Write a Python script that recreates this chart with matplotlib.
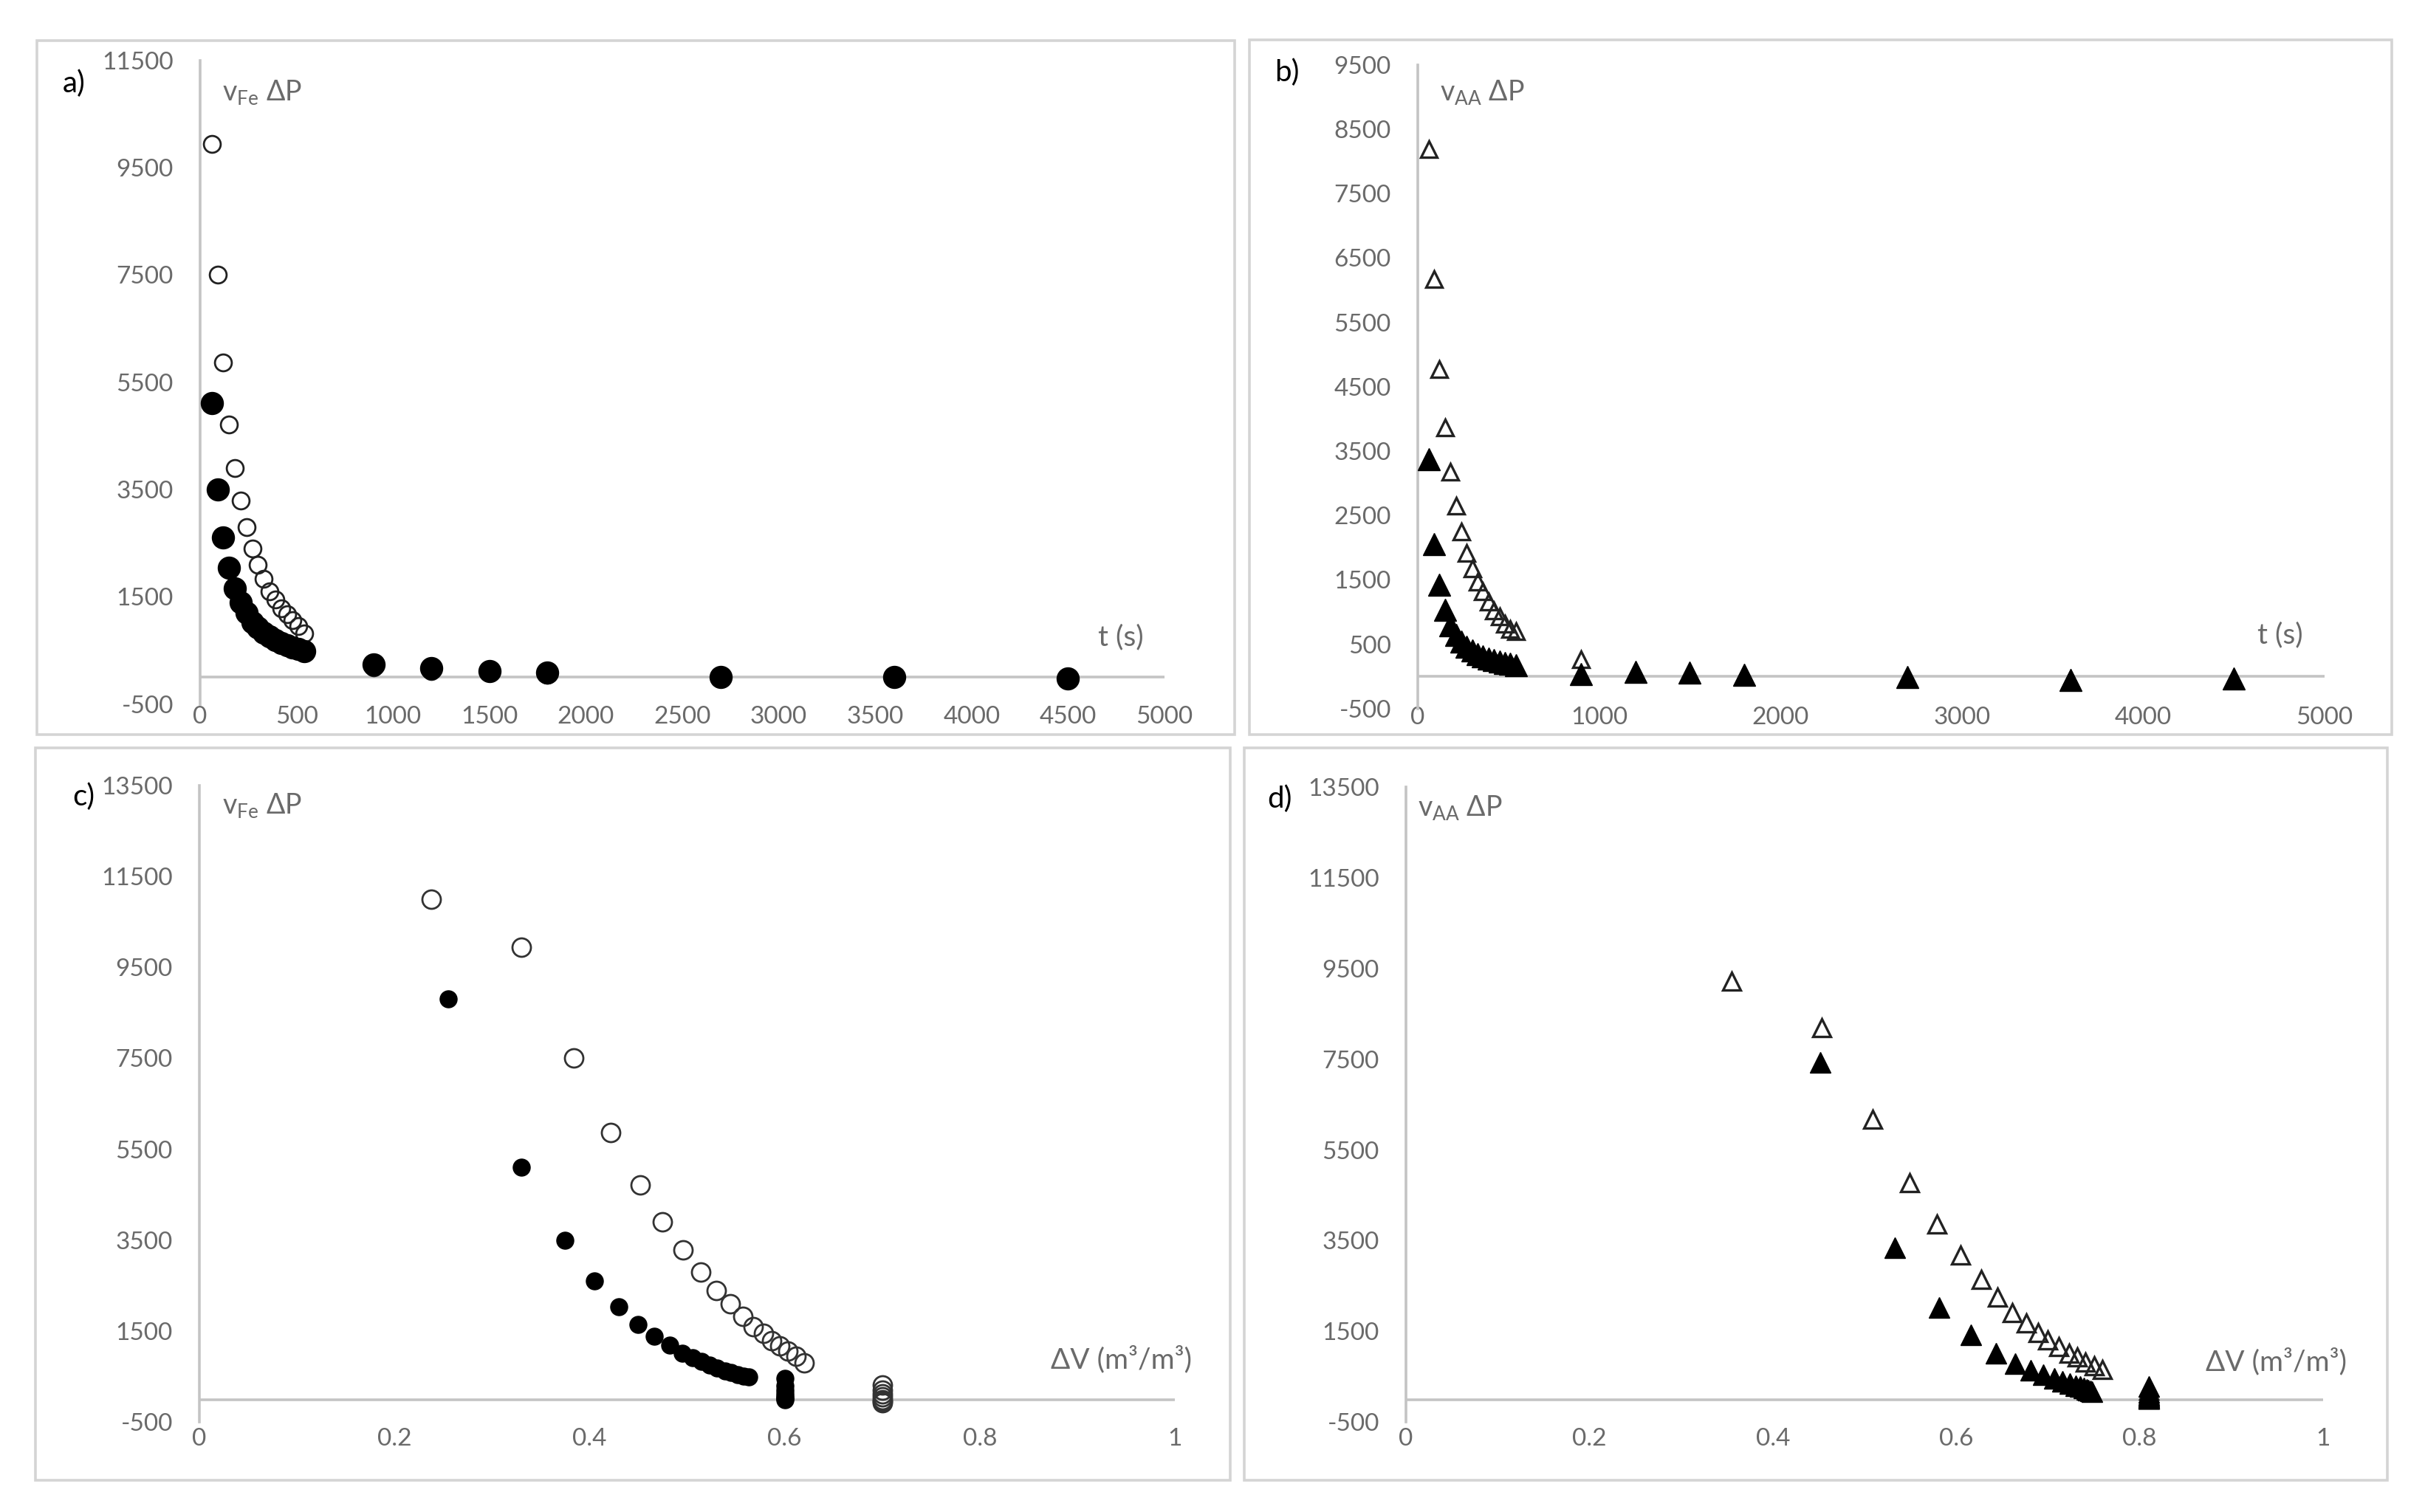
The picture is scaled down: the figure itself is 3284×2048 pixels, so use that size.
import matplotlib
matplotlib.use('Agg')
import matplotlib.pyplot as plt
from matplotlib.patches import Rectangle

plt.rcParams['font.family'] = ['Lato', 'DejaVu Sans']
plt.rcParams['axes.unicode_minus'] = False

W, H = 3284, 2048
DPI = 200

# ---------------- data ----------------
# Panel a) : v_Fe dP vs time
a_open_t = [60, 90, 120, 150, 180, 210, 240, 270, 300, 330, 360, 390, 420, 450, 480, 510, 540,
            900, 1200, 1500, 1800, 2700, 3600, 4500]
a_open_v = [9940, 7500, 5870, 4710, 3900, 3290, 2800, 2400, 2100, 1830, 1600, 1450, 1290, 1180, 1060, 950, 820,
            180, 120, 80, 50, 0, -10, -30]
a_fill_t = [60, 90, 120, 150, 180, 210, 240, 270, 300, 330, 360, 390, 420, 450, 480, 510, 540,
            900, 1200, 1500, 1800, 2700, 3600, 4500]
a_fill_v = [5110, 3500, 2610, 2040, 1650, 1390, 1200, 1020, 920, 830, 760, 690, 630, 590, 550, 520, 490,
            234, 173, 118, 85, 3, 3, -20]

# Panel b) : v_AA dP vs time
b_open_t = [60, 90, 120, 150, 180, 210, 240, 270, 300, 330, 360, 390, 420, 450, 480, 510, 540,
            900, 1200, 1500, 1800, 2700, 3600, 4500]
b_open_v = [8190, 6170, 4770, 3870, 3180, 2650, 2250, 1920, 1680, 1470, 1320, 1160, 1020, 930, 820, 740, 700,
            261, 60, 40, 20, -10, -40, -30]
b_fill_t = [60, 90, 120, 150, 180, 210, 240, 270, 300, 330, 360, 390, 420, 450, 480, 510, 540,
            900, 1200, 1500, 1800, 2700, 3600, 4500]
b_fill_v = [3370, 2060, 1430, 1030, 790, 640, 540, 460, 400, 350, 310, 280, 250, 230, 210, 195, 180,
            36, 75, 55, 28, -11, -52, -36]

# Panel c) : v_Fe dP vs dV
c_open_dv = [0.238, 0.330, 0.384, 0.422, 0.452, 0.475, 0.496, 0.514, 0.530, 0.544, 0.557, 0.568, 0.578,
             0.587, 0.595, 0.603, 0.612, 0.620, 0.70, 0.70, 0.70, 0.70, 0.70, 0.70, 0.70]
c_open_v = [11000, 9940, 7500, 5870, 4710, 3900, 3290, 2800, 2400, 2100, 1830, 1600, 1450,
            1290, 1180, 1060, 950, 800, 310, 200, 120, 60, 0, -40, -70]
c_fill_dv = [0.255, 0.330, 0.375, 0.405, 0.430, 0.450, 0.466, 0.482, 0.495, 0.506, 0.515, 0.523, 0.531,
             0.539, 0.545, 0.552, 0.558, 0.563, 0.60, 0.60, 0.60, 0.60, 0.60, 0.60, 0.60]
c_fill_v = [8810, 5110, 3500, 2610, 2040, 1650, 1390, 1200, 1020, 920, 830, 760, 690,
            630, 590, 550, 520, 490, 460, 300, 200, 130, 60, 20, 0]

# Panel d) : v_AA dP vs dV
d_open_dv = [0.355, 0.453, 0.509, 0.549, 0.579, 0.605, 0.627, 0.645, 0.661, 0.676, 0.689, 0.700, 0.712,
             0.723, 0.732, 0.741, 0.750, 0.759, 0.81, 0.81, 0.81, 0.81, 0.81, 0.81, 0.81]
d_open_v = [9220, 8190, 6170, 4770, 3870, 3180, 2650, 2250, 1920, 1680, 1470, 1320, 1160,
            1020, 930, 820, 740, 660, 200, 110, 70, 40, 20, 10, 10]
d_fill_dv = [0.452, 0.533, 0.581, 0.616, 0.643, 0.664, 0.681, 0.695, 0.707, 0.716, 0.724, 0.730, 0.735,
             0.739, 0.742, 0.744, 0.746, 0.748, 0.81, 0.81, 0.81, 0.81, 0.81, 0.81, 0.81]
d_fill_v = [7430, 3350, 2020, 1420, 1020, 790, 640, 540, 460, 400, 350, 310, 280,
            250, 230, 210, 195, 180, 280, 150, 100, 60, 30, 20, 20]

# ticks
t_ticks_a = [0, 500, 1000, 1500, 2000, 2500, 3000, 3500, 4000, 4500, 5000]
t_ticks_b = [0, 1000, 2000, 3000, 4000, 5000]
dv_ticks = [0, 0.2, 0.4, 0.6, 0.8, 1]
dv_tick_labels = ['0', '0.2', '0.4', '0.6', '0.8', '1']
y_ticks_a = [-500, 1500, 3500, 5500, 7500, 9500, 11500]
y_ticks_b = [-500, 500, 1500, 2500, 3500, 4500, 5500, 6500, 7500, 8500, 9500]
y_ticks_cd = [-500, 1500, 3500, 5500, 7500, 9500, 11500, 13500]

# ---------------- styling ----------------
TICKC = '#6a6a6a'
AXC = '#c4c4c4'
BOXC = '#d4d4d4'
TICKFS = 12
LABFS = 13.5


def fx(x):
    return x / W


def fy(y):
    return 1 - y / H


def add_axes(x0, x1, y_top, y_bot):
    return fig.add_axes([fx(x0), fy(y_bot), fx(x1) - fx(x0), fy(y_top) - fy(y_bot)])


def setup(ax, xlim, ylim, xticks, xlabels, yticks, xpad):
    ax.set_xlim(*xlim)
    ax.set_ylim(*ylim)
    ax.set_facecolor('none')
    for s in ['top', 'right', 'bottom']:
        ax.spines[s].set_visible(False)
    ax.spines['left'].set_color(AXC)
    ax.spines['left'].set_linewidth(1.3)
    ax.axhline(0, color=AXC, lw=1.3, zorder=1)
    ax.set_xticks(xticks)
    ax.set_xticklabels(xlabels)
    ax.set_yticks(yticks)
    ax.set_yticklabels([str(v) for v in yticks])
    ax.tick_params(axis='both', length=0, labelsize=TICKFS, labelcolor=TICKC)
    ax.tick_params(axis='y', pad=13)
    ax.tick_params(axis='x', pad=xpad)


fig = plt.figure(figsize=(W / DPI, H / DPI), dpi=DPI)
fig.patch.set_facecolor('white')

# panel borders
for (x0, y0, x1, y1) in [(50, 55, 1672, 995), (1692, 54, 3239, 995),
                         (48, 1013, 1666, 2005), (1685, 1013, 3233, 2005)]:
    fig.add_artist(Rectangle((fx(x0), fy(y1)), fx(x1) - fx(x0), fy(y0) - fy(y1),
                             transform=fig.transFigure, fill=False, ec=BOXC, lw=1.3))

# ---- a ----
ax = add_axes(271, 1577, 81.6, 953.6)
setup(ax, (0, 5000), (-500, 11500), t_ticks_a, [str(v) for v in t_ticks_a], y_ticks_a, 1.0)
ax.plot(a_open_t, a_open_v, 'o', ms=8.2, mfc='none', mec='#222222', mew=1.0, ls='none', zorder=3, clip_on=False)
ax.plot(a_fill_t, a_fill_v, 'o', ms=10.8, mfc='black', mec='black', mew=0.5, ls='none', zorder=4, clip_on=False)

# ---- b ----
ax = add_axes(1920, 3148, 87.8, 959.8)
setup(ax, (0, 5000), (-500, 9500), t_ticks_b, [str(v) for v in t_ticks_b], y_ticks_b, -1.0)
ax.plot(b_open_t, b_open_v, '^', ms=8.2, mfc='none', mec='#222222', mew=1.2, ls='none', zorder=3, clip_on=False)
ax.plot(b_fill_t, b_fill_v, '^', ms=10.8, mfc='black', mec='black', mew=0.5, ls='none', zorder=4, clip_on=False)

# ---- c ----
ax = add_axes(270, 1591, 1063.7, 1926.4)
setup(ax, (0, 1), (-500, 13500), dv_ticks, dv_tick_labels, y_ticks_cd, 2.7)
ax.plot(c_open_dv, c_open_v, 'o', ms=9.0, mfc='none', mec='#333333', mew=1.0, ls='none', zorder=3, clip_on=False)
ax.plot(c_fill_dv, c_fill_v, 'o', ms=8.3, mfc='black', mec='black', mew=0.5, ls='none', zorder=4, clip_on=False)

# ---- d ----
ax = add_axes(1904, 3146, 1065.7, 1926.4)
setup(ax, (0, 1), (-500, 13500), dv_ticks, dv_tick_labels, y_ticks_cd, 2.7)
ax.plot(d_open_dv, d_open_v, '^', ms=8.8, mfc='none', mec='#222222', mew=1.2, ls='none', zorder=3, clip_on=False)
ax.plot(d_fill_dv, d_fill_v, '^', ms=10.0, mfc='black', mec='black', mew=0.5, ls='none', zorder=4, clip_on=False)

# ---- texts ----
def ftext(x, y, s, **kw):
    fig.text(fx(x), fy(y), s, **kw)

for (x, y, s) in [(100, 113, 'a)'), (1743, 98, 'b)'), (113, 1079, 'c)'), (1733, 1082, 'd)')]:
    ftext(x, y, s, ha='center', va='center', fontsize=14.5, color='black')

ftext(301, 126, 'v$_{\\mathregular{Fe}}$ ΔP', ha='left', va='center', fontsize=LABFS, color=TICKC)
ftext(1950, 126, 'v$_{\\mathregular{AA}}$ ΔP', ha='left', va='center', fontsize=LABFS, color=TICKC)
ftext(301, 1092, 'v$_{\\mathregular{Fe}}$ ΔP', ha='left', va='center', fontsize=LABFS, color=TICKC)
ftext(1920, 1095, 'v$_{\\mathregular{AA}}$ ΔP', ha='left', va='center', fontsize=LABFS, color=TICKC)

ftext(1518, 863, 't (s)', ha='center', va='center', fontsize=LABFS + 0.5, color=TICKC)
ftext(3088, 860, 't (s)', ha='center', va='center', fontsize=LABFS + 0.5, color=TICKC)
ftext(1614, 1841, 'ΔV (m³/m³)', ha='right', va='center', fontsize=LABFS + 0.5, color=TICKC)
ftext(3178, 1844, 'ΔV (m³/m³)', ha='right', va='center', fontsize=LABFS + 0.5, color=TICKC)

fig.savefig('out.png', dpi=DPI, facecolor='white')
